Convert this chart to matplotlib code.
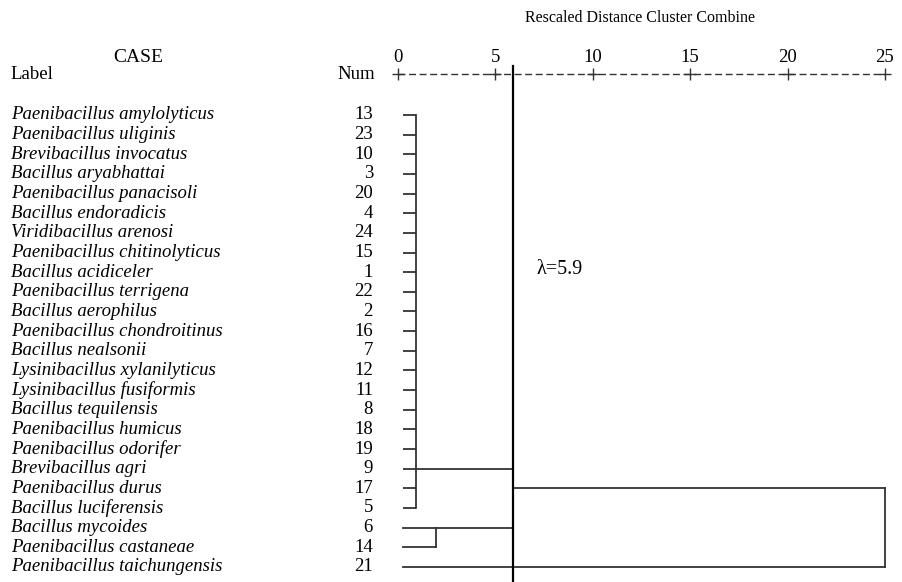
import matplotlib
matplotlib.use("Agg")
import matplotlib.pyplot as plt

labels = ["Paenibacillus amylolyticus", "Paenibacillus uliginis", "Brevibacillus invocatus",
          "Bacillus aryabhattai", "Paenibacillus panacisoli", "Bacillus endoradicis",
          "Viridibacillus arenosi", "Paenibacillus chitinolyticus", "Bacillus acidiceler",
          "Paenibacillus terrigena", "Bacillus aerophilus", "Paenibacillus chondroitinus",
          "Bacillus nealsonii", "Lysinibacillus xylanilyticus", "Lysinibacillus fusiformis",
          "Bacillus tequilensis", "Paenibacillus humicus", "Paenibacillus odorifer",
          "Brevibacillus agri", "Paenibacillus durus", "Bacillus luciferensis",
          "Bacillus mycoides", "Paenibacillus castaneae", "Paenibacillus taichungensis"]
nums = [13, 23, 10, 3, 20, 4, 24, 15, 1, 22, 2, 16, 7, 12, 11, 8, 18, 19, 9, 17, 5, 6, 14, 21]
scale_ticks = [0, 5, 10, 15, 20, 25]

# cluster merge distances (rescaled)
leaf_start = 0.25
h_groupA = 0.92      # rows 1-21
h_groupB = 1.95      # rows 22-23
h_AB = 5.9           # A + B
h_root = 25          # (A+B) + row 24
lam = 5.9

W, H = 903, 582
fig = plt.figure(figsize=(W / 100, H / 100), dpi=100)
ax = fig.add_axes([0, 0, 1, 1])

# pixel mapping of the chart area
x0px, upx = 398.0, 19.48
y0px, rowpx = 115.0, 19.65
ax.set_xlim(-x0px / upx, (W - x0px) / upx)
ax.set_ylim(1 + (H - y0px) / rowpx, 1 - y0px / rowpx)
ax.axis("off")

def px2x(px):
    return (px - x0px) / upx

def px2y(py):
    return 1 + (py - y0px) / rowpx

serif = "Liberation Serif"
fs = 13.5
lc = "#333333"
lw = 1.3

rows = list(range(1, len(labels) + 1))
for r, lab, n in zip(rows, labels, nums):
    ax.text(px2x(11), r, lab, fontsize=fs, family=serif, style="italic",
            ha="left", va="center")
    ax.text(px2x(373), r, str(n), fontsize=fs, family=serif, ha="right", va="center")

# group A: rows 1-21
for r in rows[:21]:
    ax.plot([leaf_start, h_groupA], [r, r], color=lc, lw=lw, solid_capstyle="butt")
ax.plot([h_groupA, h_groupA], [1, 21], color=lc, lw=lw)
ax.plot([h_groupA, h_AB], [19, 19], color=lc, lw=lw)
# group B: rows 22-23
ax.plot([leaf_start, h_AB], [22, 22], color=lc, lw=lw)
ax.plot([leaf_start, h_groupB], [23, 23], color=lc, lw=lw)
ax.plot([h_groupB, h_groupB], [22, 23], color=lc, lw=lw)
ax.plot([h_AB, h_AB], [19, 22], color=lc, lw=lw)
# root
ax.plot([h_AB, h_root], [20, 20], color=lc, lw=lw)
ax.plot([leaf_start, h_root], [24, 24], color=lc, lw=lw)
ax.plot([h_root, h_root], [20, 24], color=lc, lw=lw)

# lambda threshold line
ax.plot([lam, lam], [px2y(66), px2y(581)], color="black", lw=1.6)
ax.text(px2x(537), px2y(270), "λ=5.9", fontsize=14.5, family=serif, ha="left", va="center")

# scale header
yscale = px2y(74)
ax.plot([scale_ticks[0], scale_ticks[-1]], [yscale, yscale], color=lc, lw=1.0,
        dashes=(5, 2.6))
ax.plot(scale_ticks, [yscale] * len(scale_ticks), ls="none", marker="+", ms=8,
        mew=1.0, color=lc)
for t in scale_ticks:
    ax.text(t, px2y(57), str(t), fontsize=fs, family=serif, ha="center", va="center")
ax.text(px2x(640), px2y(18), "Rescaled Distance Cluster Combine", fontsize=11.5,
        family=serif, ha="center", va="center")
ax.text(px2x(138), px2y(58), "CASE", fontsize=14, family=serif, ha="center", va="center")
ax.text(px2x(10), px2y(75), "Label", fontsize=fs, family=serif, ha="left", va="center")
ax.text(px2x(375), px2y(75), "Num", fontsize=fs, family=serif, ha="right", va="center")

fig.savefig("out.png", dpi=100, facecolor="white")
